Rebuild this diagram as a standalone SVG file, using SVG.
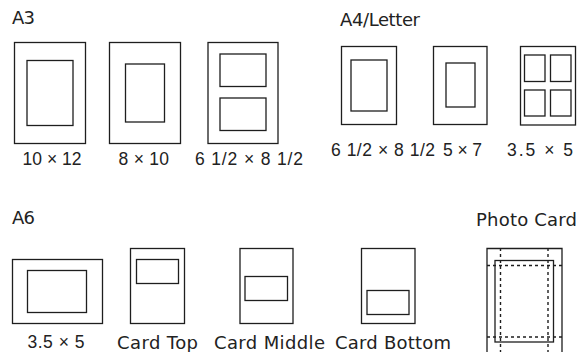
<svg xmlns="http://www.w3.org/2000/svg" width="581" height="352" viewBox="0 0 581 352">
<style>
  .f{fill:none;stroke:#1e1e1e;stroke-width:1.3}
  .d{fill:none;stroke:#1e1e1e;stroke-width:1.4;stroke-dasharray:3 3}
  .w{font-family:"DejaVu Sans","Liberation Sans",sans-serif;font-size:18px;fill:#222}
  .n{font-family:"Liberation Sans","DejaVu Sans",sans-serif;font-size:17.5px;fill:#222}
</style>
<rect width="581" height="352" fill="#fff"/>

<g id="section-labels">
  <text class="w" x="12" y="24" textLength="23" lengthAdjust="spacing">A3</text>
  <text class="w" x="340" y="25.5" textLength="80" lengthAdjust="spacing">A4/Letter</text>
  <text class="w" x="12" y="224" textLength="23" lengthAdjust="spacing">A6</text>
  <text class="w" x="476" y="225.5" textLength="101" lengthAdjust="spacing">Photo Card</text>
</g>

<g id="a3-10x12">
  <rect class="f" x="14.5" y="42.5" width="71" height="101"/>
  <rect class="f" x="27" y="60.5" width="46" height="65"/>
  <text class="n" x="22.5" y="165" textLength="59" lengthAdjust="spacing">10 × 12</text>
</g>
<g id="a3-8x10">
  <rect class="f" x="109.5" y="42.5" width="71" height="101"/>
  <rect class="f" x="125.5" y="64" width="39" height="58"/>
  <text class="n" x="118.5" y="165" textLength="50.5" lengthAdjust="spacing">8 × 10</text>
</g>
<g id="a3-6.5x8.5">
  <rect class="f" x="208" y="42.5" width="70" height="101"/>
  <rect class="f" x="220" y="54" width="46" height="32.5"/>
  <rect class="f" x="220" y="98" width="46" height="32.5"/>
  <text class="n" x="195" y="165" textLength="108" lengthAdjust="spacing">6 1/2 × 8 1/2</text>
</g>

<g id="a4-6.5x8.5">
  <rect class="f" x="341.5" y="46.5" width="55" height="78"/>
  <rect class="f" x="351" y="60" width="36" height="51"/>
  <text class="n" x="331" y="156" textLength="104" lengthAdjust="spacing">6 1/2 × 8 1/2</text>
</g>
<g id="a4-5x7">
  <rect class="f" x="433.5" y="46.5" width="53.5" height="78"/>
  <rect class="f" x="446" y="63" width="29" height="44"/>
  <text class="n" x="443" y="156" textLength="39" lengthAdjust="spacing">5 × 7</text>
</g>
<g id="a4-3.5x5">
  <rect class="f" x="520.5" y="46.5" width="55" height="78.5"/>
  <rect class="f" x="524.5" y="55" width="20.5" height="26.5"/>
  <rect class="f" x="550.5" y="55" width="20.5" height="26.5"/>
  <rect class="f" x="524.5" y="90" width="20.5" height="26"/>
  <rect class="f" x="550.5" y="90" width="20.5" height="26"/>
  <text class="n" x="507" y="156" textLength="66" lengthAdjust="spacing">3.5 × 5</text>
</g>

<g id="a6-3.5x5">
  <rect class="f" x="12.5" y="259.5" width="90" height="64"/>
  <rect class="f" x="27.5" y="270.5" width="59" height="42"/>
  <text class="n" x="27.5" y="348" textLength="57" lengthAdjust="spacing">3.5 × 5</text>
</g>
<g id="a6-card-top">
  <rect class="f" x="130.5" y="248.5" width="54" height="75"/>
  <rect class="f" x="136.5" y="259.5" width="42" height="24"/>
  <text class="w" x="117" y="349" textLength="81" lengthAdjust="spacing">Card Top</text>
</g>
<g id="a6-card-middle">
  <rect class="f" x="240" y="248.5" width="53" height="75"/>
  <rect class="f" x="245" y="276.5" width="42.5" height="24"/>
  <text class="w" x="214" y="349" textLength="111" lengthAdjust="spacing">Card Middle</text>
</g>
<g id="a6-card-bottom">
  <rect class="f" x="361.5" y="248.5" width="53.5" height="75"/>
  <rect class="f" x="367" y="290.5" width="42" height="24"/>
  <text class="w" x="335" y="349" textLength="116" lengthAdjust="spacing">Card Bottom</text>
</g>

<g id="photo-card">
  <path class="f" d="M487 360V248.5H562V360"/>
  <rect class="f" x="495" y="260.5" width="58.5" height="81.5"/>
  <line class="d" x1="500.5" y1="248" x2="500.5" y2="352"/>
  <line class="d" x1="548" y1="248" x2="548" y2="352"/>
  <line class="d" x1="487" y1="265.5" x2="562" y2="265.5"/>
  <line class="d" x1="487" y1="337" x2="562" y2="337"/>
</g>

<g id="connectors"/>
</svg>
